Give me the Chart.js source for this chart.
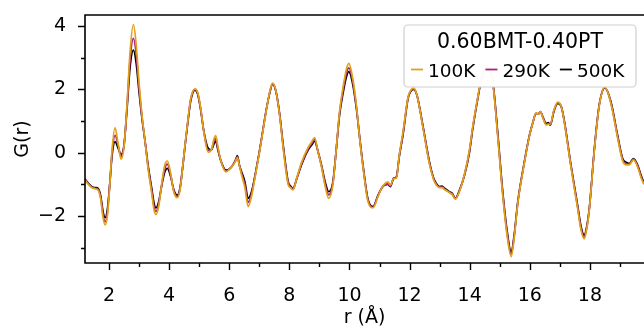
<!DOCTYPE html>
<html>
<head>
<meta charset="utf-8">
<script src="https://cdn.jsdelivr.net/npm/chart.js@4"></script>
<style>
  html, body { margin: 0; padding: 0; background: #fff; }
  #wrap { width: 644px; height: 329px; }
</style>
</head>
<body>
<div id="wrap"><canvas id="c" width="644" height="329"></canvas></div>
<script>
// r grid (Å) and G(r) for each temperature
const R = [1.20,1.30,1.43,1.55,1.64,1.72,1.80,1.87,1.95,2.03,2.10,2.20,2.30,2.40,2.50,2.60,2.70,2.81,2.90,3.00,
  3.10,3.20,3.30,3.42,3.50,3.56,3.65,3.75,3.85,3.94,4.05,4.15,4.27,4.36,4.45,4.52,4.62,4.72,4.86,4.95,
  5.05,5.15,5.30,5.41,5.48,5.55,5.62,5.72,5.89,6.08,6.20,6.27,6.34,6.41,6.52,6.63,6.74,6.85,7.02,7.24,
  7.35,7.44,7.55,7.68,7.80,7.96,8.04,8.12,8.25,8.40,8.62,8.75,8.84,8.95,9.07,9.20,9.31,9.45,9.55,9.67,
  9.80,9.90,9.98,10.10,10.23,10.35,10.45,10.61,10.78,10.95,11.05,11.17,11.28,11.36,11.47,11.56,11.66,11.78,11.95,12.05,
  12.14,12.25,12.44,12.66,12.80,12.89,13.00,13.08,13.16,13.33,13.42,13.52,13.66,13.83,13.99,14.10,14.27,14.40,14.58,14.77,
  14.93,15.10,15.25,15.38,15.48,15.60,15.82,15.99,16.10,16.21,16.28,16.35,16.45,16.54,16.62,16.68,16.80,16.93,17.05,17.15,
  17.37,17.59,17.70,17.81,17.90,17.98,18.15,18.31,18.50,18.70,18.92,19.09,19.20,19.31,19.45,19.59,19.70,19.80];

const G_500K = [-0.83,-0.95,-1.07,-1.10,-1.13,-1.35,-1.85,-2.05,-1.75,-0.92,-0.10,0.35,0.15,-0.05,0.25,1.40,2.70,3.24,2.85,1.90,
  1.05,0.35,-0.40,-1.12,-1.60,-1.74,-1.55,-1.05,-0.62,-0.49,-0.75,-1.15,-1.34,-1.12,-0.45,0.15,0.95,1.65,1.98,1.85,
  1.35,0.70,0.14,0.09,0.25,0.37,0.10,-0.25,-0.55,-0.44,-0.25,-0.09,-0.40,-0.60,-0.91,-1.44,-1.23,-0.75,0.14,1.40,
  1.90,2.17,1.95,1.20,0.20,-0.91,-1.05,-1.13,-0.80,-0.39,0.08,0.25,0.37,0.05,-0.39,-0.95,-1.23,-0.91,0.00,1.19,
  1.95,2.40,2.56,2.20,1.40,0.40,-0.39,-1.44,-1.70,-1.34,-1.15,-1.02,-1.00,-1.07,-0.81,-0.76,-0.10,0.56,1.72,1.95,
  2.00,1.80,0.87,-0.28,-0.80,-0.97,-1.07,-1.05,-1.12,-1.23,-1.28,-1.44,-1.18,-0.70,0.00,0.75,1.72,2.35,2.70,2.24,
  0.66,-1.23,-2.50,-3.13,-2.60,-1.55,-0.28,0.56,0.95,1.24,1.22,1.29,1.10,0.93,0.95,0.87,1.30,1.56,1.45,1.00,
  -0.39,-1.65,-2.30,-2.60,-2.30,-1.76,0.14,1.51,2.05,1.61,0.56,-0.18,-0.30,-0.34,-0.18,-0.39,-0.70,-0.95];

const G_290K = [-0.85,-0.97,-1.09,-1.12,-1.16,-1.40,-1.95,-2.18,-1.85,-0.90,0.00,0.55,0.25,-0.12,0.25,1.50,2.95,3.61,3.15,2.05,
  1.10,0.35,-0.45,-1.20,-1.72,-1.85,-1.62,-1.02,-0.52,-0.36,-0.70,-1.18,-1.38,-1.15,-0.45,0.15,0.98,1.70,2.00,1.88,
  1.38,0.70,0.08,0.10,0.32,0.45,0.15,-0.25,-0.58,-0.44,-0.26,-0.12,-0.40,-0.65,-1.00,-1.57,-1.30,-0.78,0.12,1.40,
  1.92,2.18,1.96,1.18,0.15,-0.95,-1.08,-1.15,-0.80,-0.36,0.12,0.30,0.42,0.05,-0.42,-1.03,-1.33,-0.95,0.00,1.25,
  2.05,2.52,2.68,2.30,1.45,0.38,-0.42,-1.48,-1.72,-1.36,-1.15,-1.00,-0.98,-1.05,-0.80,-0.78,-0.08,0.60,1.74,1.97,
  2.02,1.80,0.85,-0.32,-0.82,-1.00,-1.08,-1.08,-1.14,-1.25,-1.30,-1.45,-1.20,-0.68,0.04,0.78,1.74,2.38,2.72,2.22,
  0.60,-1.30,-2.58,-3.20,-2.65,-1.58,-0.30,0.55,0.95,1.25,1.22,1.30,1.08,0.90,0.92,0.88,1.32,1.58,1.45,0.98,
  -0.42,-1.70,-2.36,-2.66,-2.34,-1.78,0.12,1.50,2.06,1.58,0.52,-0.22,-0.34,-0.36,-0.20,-0.42,-0.74,-0.98];

const G_100K = [-0.86,-0.98,-1.10,-1.14,-1.18,-1.45,-2.05,-2.28,-1.95,-0.95,0.10,0.79,0.30,-0.20,0.20,1.55,3.20,4.05,3.45,2.20,
  1.15,0.35,-0.50,-1.28,-1.82,-1.95,-1.70,-1.00,-0.40,-0.26,-0.65,-1.22,-1.42,-1.18,-0.45,0.18,1.00,1.72,2.02,1.90,
  1.40,0.68,0.02,0.10,0.40,0.54,0.20,-0.25,-0.60,-0.44,-0.28,-0.15,-0.42,-0.70,-1.10,-1.70,-1.38,-0.82,0.10,1.38,
  1.94,2.20,1.97,1.15,0.10,-1.00,-1.10,-1.17,-0.78,-0.32,0.16,0.36,0.48,0.05,-0.45,-1.10,-1.44,-1.00,0.00,1.30,
  2.15,2.65,2.82,2.40,1.50,0.35,-0.45,-1.52,-1.74,-1.38,-1.15,-0.98,-0.92,-1.02,-0.82,-0.80,-0.05,0.65,1.76,1.99,
  2.04,1.80,0.82,-0.35,-0.85,-1.02,-1.10,-1.10,-1.16,-1.26,-1.32,-1.46,-1.22,-0.66,0.08,0.82,1.76,2.42,2.75,2.20,
  0.55,-1.35,-2.65,-3.28,-2.70,-1.60,-0.32,0.54,0.95,1.26,1.22,1.30,1.06,0.88,0.90,0.90,1.34,1.60,1.45,0.95,
  -0.45,-1.75,-2.42,-2.72,-2.38,-1.80,0.10,1.48,2.07,1.55,0.48,-0.26,-0.38,-0.38,-0.22,-0.45,-0.78,-1.00];

const SERIES_LABELS = ['100K', '290K', '500K'];
const SERIES_COLORS = ['#e2a11b', '#a8257c', '#000000'];
const LEGEND_TITLE = '0.60BMT-0.40PT';
const X_TICKS = [2,3,4,5,6,7,8,9,10,11,12,13,14,15,16,17,18,19];
const Y_TICKS = [-3,-2,-1,0,1,2,3,4];

const FONT = 'DejaVu Sans';
const toXY = ys => R.map((x, i) => ({ x, y: ys[i] }));

// spines, tick marks and the matplotlib-style legend
const axesDeco = {
  id: 'axesDeco',
  afterDatasetsDraw(chart) {
    const { ctx, chartArea: a, scales: { x, y } } = chart;
    ctx.save();
    ctx.strokeStyle = '#000';
    ctx.lineWidth = 1.6;
    ctx.beginPath();
    ctx.moveTo(a.right + 2, a.top); ctx.lineTo(a.left, a.top);
    ctx.lineTo(a.left, a.bottom); ctx.lineTo(a.right + 2, a.bottom);
    ctx.stroke();
    ctx.lineWidth = 1.4;
    ctx.beginPath();
    X_TICKS.forEach(v => {
      const px = Math.round(x.getPixelForValue(v)) + 0.5;
      const len = v % 2 === 0 ? 7 : 4;
      ctx.moveTo(px, a.bottom); ctx.lineTo(px, a.bottom + len);
    });
    Y_TICKS.forEach(v => {
      const py = Math.round(y.getPixelForValue(v)) + 0.5;
      const len = v % 2 === 0 ? 7 : 4;
      ctx.moveTo(a.left, py); ctx.lineTo(a.left - len, py);
    });
    ctx.stroke();

    // legend box
    const bx = 404, by = 25, bw = 232, bh = 62, rr = 4;
    ctx.beginPath();
    ctx.roundRect(bx, by, bw, bh, rr);
    ctx.fillStyle = 'rgba(255,255,255,0.96)';
    ctx.fill();
    ctx.strokeStyle = '#cfcfcf';
    ctx.lineWidth = 1.2;
    ctx.stroke();

    ctx.fillStyle = '#000';
    ctx.textBaseline = 'alphabetic';
    ctx.textAlign = 'center';
    ctx.font = `20.5px "${FONT}"`;
    ctx.fillText(LEGEND_TITLE, bx + bw / 2, 48);

    ctx.font = `18.5px "${FONT}"`;
    ctx.textAlign = 'left';
    let cx = 411;
    SERIES_LABELS.forEach((lab, i) => {
      ctx.strokeStyle = SERIES_COLORS[i];
      ctx.lineWidth = 1.8;
      ctx.beginPath();
      ctx.moveTo(cx, 69.5); ctx.lineTo(cx + 12, 69.5);
      ctx.stroke();
      ctx.fillText(lab, cx + 17, 77);
      cx += 17 + ctx.measureText(lab).width + 10;
    });
    ctx.restore();
  }
};

new Chart(document.getElementById('c'), {
  type: 'line',
  data: {
    datasets: SERIES_LABELS.map((lab, i) => ({
      label: lab,
      data: toXY([G_100K, G_290K, G_500K][i]),
      borderColor: SERIES_COLORS[i],
      borderWidth: 1.7,
      pointRadius: 0,
      cubicInterpolationMode: 'monotone',
      fill: false
    }))
  },
  options: {
    responsive: false,
    animation: false,
    devicePixelRatio: 1,
    layout: { padding: { top: 15, right: 0, left: 0, bottom: 0 } },
    plugins: { legend: { display: false }, tooltip: { enabled: false } },
    scales: {
      x: {
        type: 'linear', min: 1.2, max: 19.8,
        afterBuildTicks: s => { s.ticks = X_TICKS.map(v => ({ value: v })); },
        afterFit: s => { s.height = 66; s.paddingLeft = 0; s.paddingRight = 0; },
        grid: { display: false },
        border: { display: false },
        ticks: {
          autoSkip: false, maxRotation: 0, padding: 14, color: '#000',
          font: { family: FONT, size: 19 },
          callback: v => (v % 2 === 0 ? String(v) : '')
        },
        title: { display: true, text: 'r (Å)', color: '#000', font: { family: FONT, size: 19 }, padding: 0 }
      },
      y: {
        type: 'linear', min: -3.48, max: 4.35,
        afterBuildTicks: s => { s.ticks = Y_TICKS.map(v => ({ value: v })); },
        afterFit: s => { s.width = 85; s.paddingTop = 0; s.paddingBottom = 0; },
        grid: { display: false },
        border: { display: false },
        ticks: {
          autoSkip: false, padding: 11, color: '#000',
          font: { family: FONT, size: 19 },
          callback: v => (v % 2 === 0 ? String(v).replace('-', '\u2212') : '')
        },
        title: { display: true, text: 'G(r)', color: '#000', font: { family: FONT, size: 19 }, padding: 12 }
      }
    }
  },
  plugins: [axesDeco]
});
</script>
</body>
</html>
